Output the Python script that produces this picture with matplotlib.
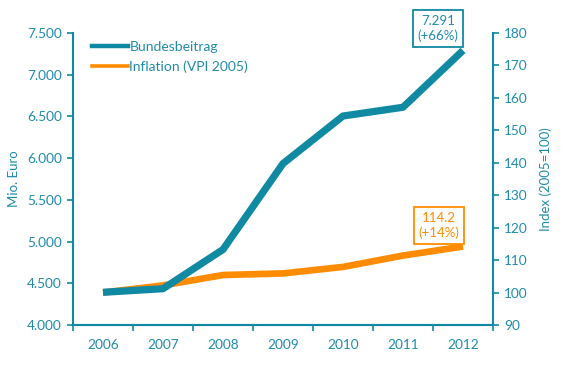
import matplotlib
matplotlib.use("Agg")
import matplotlib.pyplot as plt
from matplotlib.lines import Line2D
from matplotlib.ticker import FixedLocator, FuncFormatter

years = ["2006", "2007", "2008", "2009", "2010", "2011", "2012"]
bundesbeitrag = [4392, 4435, 4905, 5935, 6505, 6610, 7291]
inflation = [100.0, 102.2, 105.4, 105.9, 107.9, 111.4, 114.2]
left_ticks = [4000, 4500, 5000, 5500, 6000, 6500, 7000, 7500]
right_ticks = [90, 100, 110, 120, 130, 140, 150, 160, 170, 180]

TEAL = "#1089a3"
TXT = "#1f8bab"
ORANGE = "#ff8c00"

plt.rcParams['font.family'] = ['Lato', 'DejaVu Sans']

fig = plt.figure(figsize=(5.69, 3.70), dpi=100)
ax = fig.add_axes([73/569, 1-325/370, 420/569, 292/370])
ax2 = ax.twinx()

x = list(range(len(years)))
ax.plot(x, bundesbeitrag, color=TEAL, lw=5.2, solid_capstyle='butt', zorder=3)
ax2.plot(x, inflation, color=ORANGE, lw=4.8, solid_capstyle='butt', zorder=3)
ax.set_zorder(ax2.get_zorder() + 1)
ax.patch.set_visible(False)

ax.set_xlim(-0.5, len(years) - 0.5)
ax.set_ylim(left_ticks[0], left_ticks[-1])
ax2.set_ylim(right_ticks[0], right_ticks[-1])

ax.set_xticks(x)
ax.set_xticklabels(years)
ax.xaxis.set_minor_locator(FixedLocator([i - 0.5 for i in range(len(years) + 1)]))
ax.tick_params(axis='x', which='major', length=0, pad=10, labelsize=9.8, labelcolor=TXT)
ax.tick_params(axis='x', which='minor', length=4, width=1.2, color=TEAL, direction='out')

ax.set_yticks(left_ticks)
ax.yaxis.set_major_formatter(FuncFormatter(lambda v, p: f"{int(v):,}".replace(",", ".")))
ax.tick_params(axis='y', length=4, width=1.2, color=TEAL, labelsize=9.8, labelcolor=TXT, pad=4)
ax2.set_yticks(right_ticks)
ax2.tick_params(axis='y', length=4, width=1.2, color=TEAL, labelsize=9.8, labelcolor=TXT, pad=4)

for a in (ax, ax2):
    a.spines['top'].set_visible(False)
    for s in ('left', 'right', 'bottom'):
        a.spines[s].set_color(TEAL)
        a.spines[s].set_linewidth(1.5)
ax.spines['right'].set_visible(False)
ax2.spines['left'].set_visible(False)

ax.set_ylabel("Mio. Euro", color=TXT, fontsize=9.5, labelpad=5)
ax2.set_ylabel("Index (2005=100)", color=TXT, fontsize=9.5, labelpad=8)

handles = [Line2D([], [], color=TEAL, lw=3.2), Line2D([], [], color=ORANGE, lw=2.6)]
leg = ax.legend(handles, ["Bundesbeitrag", "Inflation (VPI 2005)"], loc='upper left',
                bbox_to_anchor=(0.015, 1.015), frameon=False, handlelength=2.6,
                handletextpad=0.1, labelspacing=0.5, fontsize=10)
for t in leg.get_texts():
    t.set_color(TXT)

ax.annotate(f"{bundesbeitrag[-1]:,}".replace(",", ".") + "\n(+66%)",
            xy=(x[-1], bundesbeitrag[-1]), xytext=(-25, 22), textcoords='offset pixels',
            ha='center', va='center', fontsize=9.5, color=TXT, linespacing=1.25,
            bbox=dict(boxstyle='square,pad=0.35', fc='white', ec=TEAL, lw=1.3),
            annotation_clip=False, zorder=5)
ax2.annotate(f"{inflation[-1]:.1f}" + "\n(+14%)",
            xy=(x[-1], inflation[-1]), xytext=(-24, 21), textcoords='offset pixels',
            ha='center', va='center', fontsize=9.5, color=ORANGE, linespacing=1.25,
            bbox=dict(boxstyle='square,pad=0.35', fc='white', ec=ORANGE, lw=1.3),
            annotation_clip=False, zorder=5)

fig.savefig("out.png", dpi=100)
